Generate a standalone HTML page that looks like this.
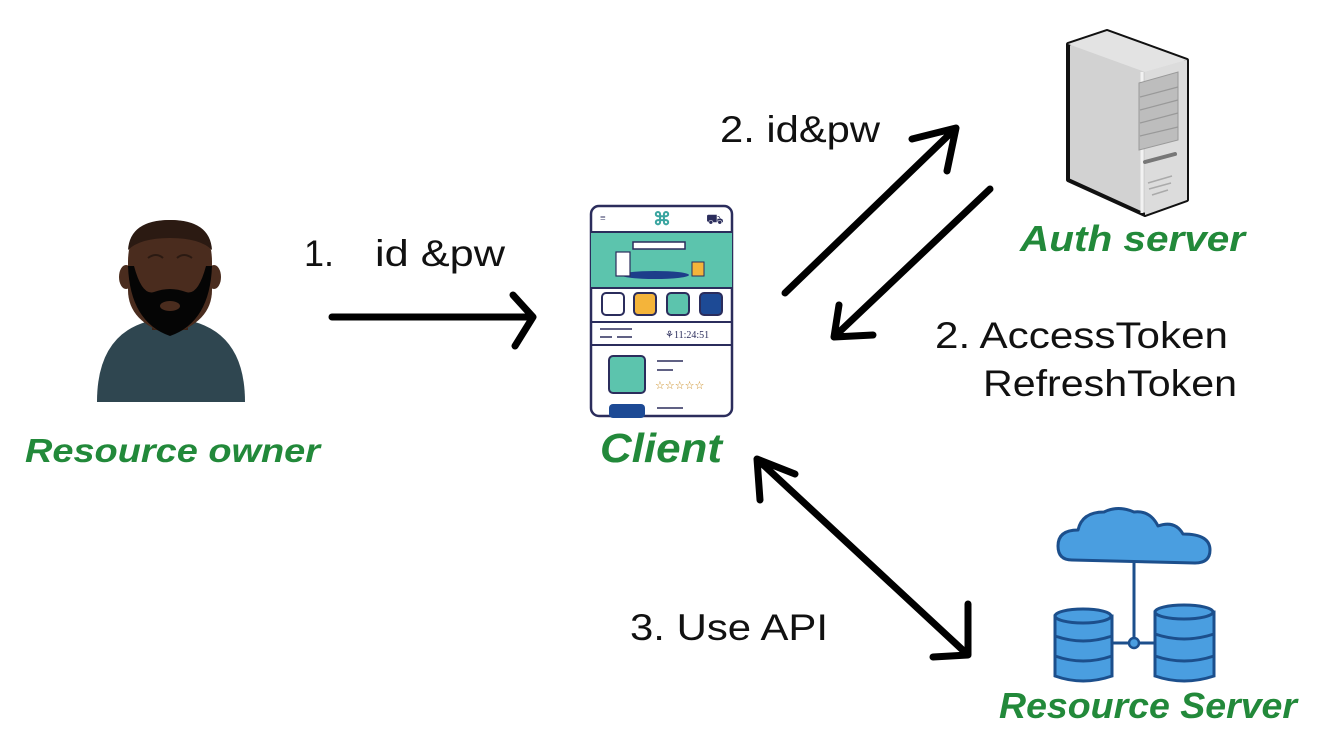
<!DOCTYPE html>
<html><head><meta charset="utf-8"><style>
html,body{margin:0;padding:0;background:#fff;}
svg{display:block;}
.t{font-family:"Liberation Sans",sans-serif;font-size:37px;fill:#111;}
.g{font-family:"Liberation Sans",sans-serif;font-weight:bold;font-style:italic;fill:#22893a;}
</style></head><body>
<svg width="1326" height="745" viewBox="0 0 1326 745" xmlns="http://www.w3.org/2000/svg">
<rect width="1326" height="745" fill="#fff"/>
<!-- person -->
<path d="M97 402 Q97 322 170 318 Q245 322 245 402 Z" fill="#2f4650"/>
<rect x="152" y="300" width="36" height="30" fill="#3a2418"/>
<ellipse cx="126" cy="277" rx="7" ry="12" fill="#4a2c1e"/>
<ellipse cx="214" cy="277" rx="7" ry="12" fill="#4a2c1e"/>
<path d="M128 262 Q128 220 170 220 Q212 220 212 262 L212 290 Q212 322 170 335 Q128 322 128 290 Z" fill="#4a2c1e"/>
<path d="M128 250 Q130 220 170 220 Q210 220 212 250 Q200 238 170 238 Q140 238 128 250 Z" fill="#2b1a12"/>
<path d="M128 266 Q130 322 170 336 Q210 322 212 266 L206 266 Q198 296 186 292 Q170 286 154 292 Q142 296 134 266 Z" fill="#050505"/>
<path d="M148 258 Q156 252 163 258 M177 258 Q184 252 192 258" stroke="#2b1a12" stroke-width="2" fill="none"/>
<ellipse cx="170" cy="306" rx="10" ry="5" fill="#4a2c1e"/>
<text class="g" x="25" y="462" font-size="33" textLength="295" lengthAdjust="spacingAndGlyphs">Resource owner</text>
<!-- client phone -->
<rect x="591" y="206" width="141" height="210" rx="8" fill="#fff" stroke="#2b2d5c" stroke-width="2.5"/>
<line x1="591" y1="232" x2="732" y2="232" stroke="#2b2d5c" stroke-width="2"/>
<rect x="591" y="233" width="141" height="54" fill="#5cc4ad"/>
<line x1="591" y1="288" x2="732" y2="288" stroke="#2b2d5c" stroke-width="2"/>
<rect x="633" y="242" width="52" height="7" fill="#fff" stroke="#2b2d5c" stroke-width="1.5"/>
<ellipse cx="655" cy="275" rx="34" ry="4" fill="#1d3e8a"/>
<rect x="616" y="252" width="14" height="24" fill="#fff" stroke="#2b2d5c" stroke-width="1.2"/>
<rect x="692" y="262" width="12" height="14" fill="#f4b43a" stroke="#2b2d5c" stroke-width="1"/>
<text x="600" y="221" font-size="10" fill="#2b2d5c">≡</text>
<text x="653" y="225" font-size="18" fill="#3aa5a0" font-weight="bold">⌘</text>
<text x="706" y="224" font-size="14" fill="#2b2d5c">⛟</text>
<rect x="602" y="293" width="22" height="22" rx="4" fill="#fff" stroke="#2b2d5c" stroke-width="2"/>
<rect x="634" y="293" width="22" height="22" rx="4" fill="#f4b43a" stroke="#2b2d5c" stroke-width="2"/>
<rect x="667" y="293" width="22" height="22" rx="4" fill="#5cc4ad" stroke="#2b2d5c" stroke-width="2"/>
<rect x="700" y="293" width="22" height="22" rx="4" fill="#1d4a95" stroke="#2b2d5c" stroke-width="2"/>
<line x1="591" y1="322" x2="732" y2="322" stroke="#2b2d5c" stroke-width="2"/>
<line x1="591" y1="345" x2="732" y2="345" stroke="#2b2d5c" stroke-width="2"/>
<path d="M600 329h32M600 337h12M617 337h15" stroke="#2b2d5c" stroke-width="1.5"/>
<text x="665" y="338" font-size="10" fill="#2b2d5c" font-family="Liberation Serif,serif">⚘11:24:51</text>
<rect x="609" y="356" width="36" height="37" rx="4" fill="#5cc4ad" stroke="#2b2d5c" stroke-width="2"/>
<path d="M657 361h26M657 370h16M657 408h26" stroke="#2b2d5c" stroke-width="1.5"/>
<text x="655" y="389" font-size="11" fill="#c8871a">☆☆☆☆☆</text>
<rect x="609" y="404" width="36" height="14" rx="4" fill="#1d4a95"/>
<text class="g" x="600" y="462" font-size="41" textLength="122" lengthAdjust="spacingAndGlyphs">Client</text>
<!-- auth server -->
<path d="M1068 44 L1107 31 L1187 60 L1187 200 L1145 215 L1068 180 Z" fill="#d2d2d2" stroke="#111" stroke-width="4" stroke-linejoin="round"/>
<path d="M1068 44 L1107 31 L1187 60 L1145 72 Z" fill="#e3e3e3"/>
<path d="M1145 72 L1187 60 L1187 200 L1145 215 Z" fill="#dcdcdc"/>
<path d="M1142 72 L1142 213" stroke="#f2f2f2" stroke-width="3"/>
<path d="M1139 83 L1178 72 L1178 140 L1139 150 Z" fill="#bdbdbd" stroke="#999" stroke-width="1"/>
<path d="M1140 97 L1178 87 M1140 110 L1178 100 M1140 123 L1178 113 M1140 136 L1178 127" stroke="#999" stroke-width="1.2"/>
<path d="M1145 162 L1175 154" stroke="#777" stroke-width="4" stroke-linecap="round"/>
<path d="M1148 183 L1172 176 M1149 189 L1171 183 M1152 195 L1168 190" stroke="#aaa" stroke-width="1.5"/>
<text class="g" x="1020" y="251" font-size="36" textLength="225" lengthAdjust="spacingAndGlyphs">Auth server</text>
<!-- resource server -->
<path d="M1072 560 Q1058 560 1058 546 Q1058 530 1078 530 Q1082 512 1104 512 Q1118 505 1134 512 Q1150 510 1158 526 Q1175 520 1183 534 Q1210 534 1210 550 Q1210 563 1195 563 Z" fill="#4a9ee0" stroke="#1c4f8c" stroke-width="3" stroke-linejoin="round"/>
<line x1="1134" y1="563" x2="1134" y2="642" stroke="#1c4f8c" stroke-width="3"/>
<line x1="1112" y1="643" x2="1155" y2="643" stroke="#1c4f8c" stroke-width="3"/>
<circle cx="1134" cy="643" r="5" fill="#4a9ee0" stroke="#1c4f8c" stroke-width="2.5"/>
<g stroke="#1c4f8c" stroke-width="3" fill="#4a9ee0">
<path d="M1055 616 L1055 676 Q1083 686 1112 676 L1112 616 Z"/>
<ellipse cx="1083" cy="616" rx="28" ry="7"/>
<path d="M1055 636 Q1083 646 1112 636 M1055 656 Q1083 666 1112 656" fill="none"/>
<path d="M1155 612 L1155 676 Q1184 686 1214 676 L1214 612 Z"/>
<ellipse cx="1184" cy="612" rx="29" ry="7"/>
<path d="M1155 634 Q1184 644 1214 634 M1155 656 Q1184 666 1214 656" fill="none"/>
</g>
<text class="g" x="999" y="718" font-size="36" textLength="298" lengthAdjust="spacingAndGlyphs">Resource Server</text>
<!-- arrows -->
<g stroke="#000" stroke-width="7" stroke-linecap="round" stroke-linejoin="round" fill="none">
<path d="M332 317 L533 317 M513 295 L533 317 L515 346"/>
<path d="M785 293 L956 128 M912 139 L956 128 L947 171"/>
<path d="M990 189 L834 337 M839 305 L834 337 L873 335"/>
<path d="M757 459 L968 655 M760 500 L757 459 L795 474 M968 604 L968 655 L933 657"/>
</g>
<text class="t" x="304" y="266" textLength="30" lengthAdjust="spacingAndGlyphs">1.</text>
<text class="t" x="375" y="266" textLength="130" lengthAdjust="spacingAndGlyphs">id &amp;pw</text>
<text class="t" x="720" y="142" textLength="160" lengthAdjust="spacingAndGlyphs">2. id&amp;pw</text>
<text class="t" x="935" y="348" textLength="293" lengthAdjust="spacingAndGlyphs">2. AccessToken</text>
<text class="t" x="983" y="396" textLength="254" lengthAdjust="spacingAndGlyphs">RefreshToken</text>
<text class="t" x="630" y="640" textLength="198" lengthAdjust="spacingAndGlyphs">3. Use API</text>
</svg>
</body></html>
